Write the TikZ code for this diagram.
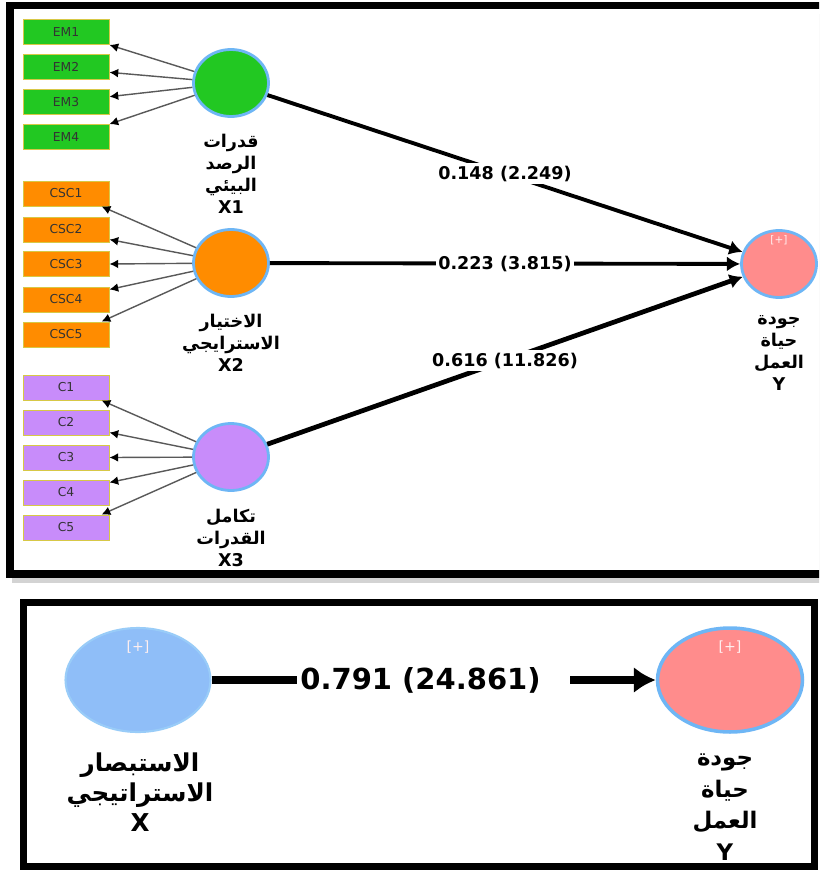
\documentclass[tikz,border=0pt]{standalone}
\usepackage{fontspec}
\setmainfont{DejaVu Sans}
\newfontfamily\arabicfont[Script=Arabic]{DejaVu Sans}
\TeXXeTstate=1
\usetikzlibrary{shapes.geometric,arrows.meta,shadows}

\definecolor{emgreen}{RGB}{34,200,34}
\definecolor{cscorange}{RGB}{255,140,0}
\definecolor{cpurple}{RGB}{200,140,250}
\definecolor{ypink}{RGB}{255,140,140}
\definecolor{xblue}{RGB}{143,190,248}
\definecolor{lvedge}{RGB}{110,182,245}
\definecolor{boxedge}{RGB}{215,200,70}

\tikzset{
    frame/.style={draw=black, fill=white},
    ind/.style={draw=boxedge, line width=0.5pt, minimum width=1.72cm, minimum height=0.5cm,
        inner sep=0pt, font=\fontsize{7}{8}\selectfont, text=black!80},
    lv/.style={ellipse, draw=lvedge, line width=1.6pt, minimum width=1.5cm, minimum height=1.34cm},
    biglv/.style={ellipse, draw=lvedge, line width=2pt, minimum width=2.9cm, minimum height=2.08cm},
    load/.style={draw=black!65, line width=0.8pt, -{Latex[length=5pt,width=5pt,color=black]}},
    coef/.style={line width=2.2pt, -{Latex[length=7.5pt,width=8.5pt]}},
    coeflbl/.style={fill=white, inner sep=1.5pt, font=\bfseries\fontsize{10}{12}\selectfont},
    lvname/.style={align=center, font=\arabicfont\bfseries\fontsize{10}{12.5}\selectfont},
    biglvname/.style={align=center, font=\arabicfont\bfseries\fontsize{14}{17}\selectfont},
    plus/.style={text=white!75!pink, inner sep=0pt},
}

\begin{document}
\begin{tikzpicture}[x=0.02cm, y=-0.02cm]
    \useasboundingbox (0,0) rectangle (819,872);
    \clip (0,0) rectangle (819,872);

    % frames
    \draw[frame, line width=4pt, drop shadow={shadow xshift=1pt, shadow yshift=-5pt, opacity=0.35}]
        (10,5.5) rectangle (845,574);
    \draw[frame, line width=4.5pt] (23.5,602.5) rectangle (814.5,866.5);

    % indicators
    \node[ind, fill=emgreen] (EM1) at (66,32) {EM1};
    \node[ind, fill=emgreen] (EM2) at (66,67) {EM2};
    \node[ind, fill=emgreen] (EM3) at (66,102) {EM3};
    \node[ind, fill=emgreen] (EM4) at (66,137) {EM4};

    \node[ind, fill=cscorange] (CSC1) at (66,193.5) {CSC1};
    \node[ind, fill=cscorange] (CSC2) at (66,229.5) {CSC2};
    \node[ind, fill=cscorange] (CSC3) at (66,264) {CSC3};
    \node[ind, fill=cscorange] (CSC4) at (66,299.5) {CSC4};
    \node[ind, fill=cscorange] (CSC5) at (66,334.5) {CSC5};

    \node[ind, fill=cpurple] (C1) at (66,387.5) {C1};
    \node[ind, fill=cpurple] (C2) at (66,422.5) {C2};
    \node[ind, fill=cpurple] (C3) at (66,457.5) {C3};
    \node[ind, fill=cpurple] (C4) at (66,492.5) {C4};
    \node[ind, fill=cpurple] (C5) at (66,527.5) {C5};

    % latent variables
    \node[lv, fill=emgreen] (X1) at (231,83) {};
    \node[lv, fill=cscorange] (X2) at (231,263) {};
    \node[lv, fill=cpurple] (X3) at (231,457) {};
    \node[lv, fill=ypink] (Y) at (779,264) {};
    \node[plus, font=\fontsize{6}{7}\selectfont] (pY) at (779,240) {[+]};

    \node[lvname] (lX1) at (231,174) {\beginR قدرات\endR\\ \beginR الرصد\endR\\ \beginR البيئي\endR\\ X1};
    \node[lvname] (lX2) at (231,343) {\beginR الاختيار\endR\\ \beginR الاسترايجي\endR\\ X2};
    \node[lvname] (lX3) at (231,538) {\beginR تكامل\endR\\ \beginR القدرات\endR\\ X3};
    \node[lvname] (lY) at (779,353) {\beginR جودة\endR\\ \beginR حياة\endR\\ \beginR العمل\endR\\ Y};

    % outer loadings
    \draw[load] (X1) -- (EM1.south east);
    \draw[load] (X1) -- (EM2.-7);
    \draw[load] (X1) -- (EM3.7);
    \draw[load] (X1) -- (EM4.north east);

    \draw[load] (X2) -- (CSC1.-20);
    \draw[load] (X2) -- (CSC2.-13);
    \draw[load] (X2) -- (CSC3.east);
    \draw[load] (X2) -- (CSC4.13);
    \draw[load] (X2) -- (CSC5.20);

    \draw[load] (X3) -- (C1.-20);
    \draw[load] (X3) -- (C2.-13);
    \draw[load] (X3) -- (C3.east);
    \draw[load] (X3) -- (C4.13);
    \draw[load] (X3) -- (C5.20);

    % path coefficients
    \draw[coef] (X1) -- node[coeflbl] (b1) {0.148 (2.249)} (Y);
    \draw[coef] (X2) -- node[coeflbl] (b2) {0.223 (3.815)} (Y);
    \draw[coef, line width=2.7pt] (X3) -- node[coeflbl] (b3) {0.616 (11.826)} (Y);

    % second model
    \node[biglv, fill=xblue, draw=lvedge!70!white, line width=1.2pt] (X) at (138,680) {};
    \node[biglv, fill=ypink] (Y2) at (730,680) {};
    \node[plus, font=\fontsize{8}{9}\selectfont] (pX) at (138,647) {[+]};
    \node[plus, font=\fontsize{8}{9}\selectfont] (pY2) at (730,647) {[+]};

    \node[biglvname] (lX) at (140,792) {\beginR الاستبصار\endR\\ \beginR الاستراتيجي\endR\\ X};
    \node[biglvname, font=\arabicfont\bfseries\fontsize{13}{18}\selectfont] (lY2) at (725,807)
        {\beginR جودة\endR\\ \beginR حياة\endR\\ \beginR العمل\endR\\ Y};

    \draw[line width=4.5pt, -{Latex[length=12.5pt,width=15pt]}] (X) --
        node[fill=white, inner sep=2pt, font=\bfseries\fontsize{16.5}{19}\selectfont] (b4)
        {0.791 (24.861)\kern15pt} (Y2);
\end{tikzpicture}
\end{document}
